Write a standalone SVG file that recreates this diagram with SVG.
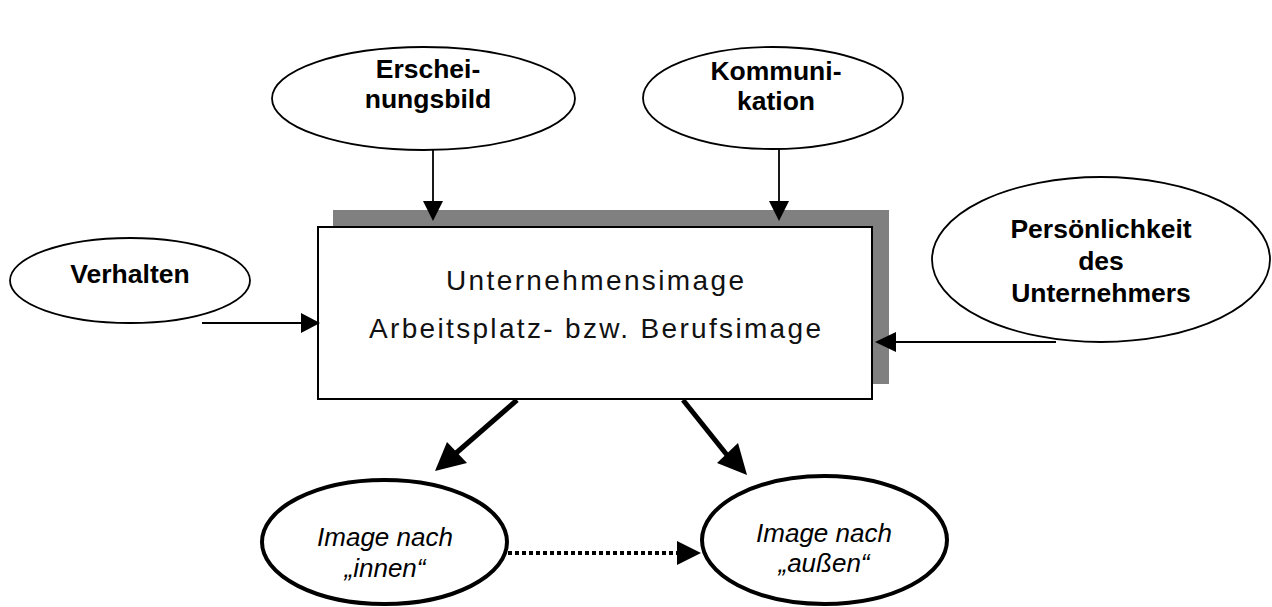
<svg xmlns="http://www.w3.org/2000/svg" width="1272" height="607" viewBox="0 0 1272 607">
<style>
.thin{fill:#fff;stroke:#000;stroke-width:1.8}
.thick{fill:#fff;stroke:#000;stroke-width:4}
.b{font-family:"Liberation Sans",Arial,sans-serif;font-weight:bold;font-size:26.5px;text-anchor:middle;fill:#000}
.m{font-family:"Liberation Sans",Arial,sans-serif;font-size:28px;text-anchor:middle;fill:#111}
.i{font-family:"Liberation Sans",Arial,sans-serif;font-style:italic;font-size:26px;text-anchor:middle;fill:#000}
.ln{stroke:#000;stroke-width:1.8;fill:none}
</style>
<rect width="1272" height="607" fill="#fff"/>
<g id="main-box">
<rect x="333" y="210" width="556" height="174" fill="#808080"/>
<rect x="318" y="227" width="554" height="172" fill="#fff" stroke="#000" stroke-width="2"/>
<text class="m" x="595" y="290" textLength="298" lengthAdjust="spacing">Unternehmensimage</text>
<text class="m" x="595" y="338" textLength="452" lengthAdjust="spacing">Arbeitsplatz- bzw. Berufsimage</text>
</g>
<g id="erscheinungsbild">
<ellipse class="thin" cx="423.5" cy="98.5" rx="151.5" ry="51.5"/>
<text class="b" x="428" y="78">Erschei-</text>
<text class="b" x="428" y="108">nungsbild</text>
</g>
<g id="kommunikation">
<ellipse class="thin" cx="773" cy="98" rx="130" ry="51"/>
<text class="b" x="776" y="80">Kommuni-</text>
<text class="b" x="776" y="110">kation</text>
</g>
<g id="verhalten">
<ellipse class="thin" cx="130" cy="280.5" rx="120" ry="42.5"/>
<text class="b" x="130" y="283">Verhalten</text>
</g>
<g id="persoenlichkeit">
<ellipse class="thin" cx="1101" cy="259.5" rx="169" ry="82.5"/>
<text class="b" x="1101" y="238">Persönlichkeit</text>
<text class="b" x="1101" y="270">des</text>
<text class="b" x="1101" y="302">Unternehmers</text>
</g>
<g id="image-innen">
<ellipse class="thick" cx="384.5" cy="542" rx="122.5" ry="62"/>
<text class="i" x="385" y="546">Image nach</text>
<text class="i" x="385" y="577">„innen“</text>
</g>
<g id="image-aussen">
<ellipse class="thick" cx="824.5" cy="540" rx="122.5" ry="64"/>
<text class="i" x="824" y="542">Image nach</text>
<text class="i" x="824" y="572">„außen“</text>
</g>
<g id="connectors">
<line class="ln" x1="433" y1="150" x2="433" y2="202"/>
<polygon points="423,201 443,201 433,221"/>
<line class="ln" x1="779" y1="149" x2="779" y2="202"/>
<polygon points="769,201 789,201 779,221"/>
<line class="ln" x1="202" y1="323" x2="303" y2="323"/>
<polygon points="301,313 301,333 320,323"/>
<line class="ln" x1="1056" y1="342" x2="894" y2="342"/>
<polygon points="896,332 896,352 875,342"/>
<line x1="517" y1="400" x2="455" y2="454" stroke="#000" stroke-width="5"/>
<polygon points="447,442 467,463 435,471"/>
<line x1="683" y1="400" x2="727" y2="455" stroke="#000" stroke-width="5"/>
<polygon points="717,463 738,443 747,475"/>
<line x1="508" y1="553" x2="678" y2="553" stroke="#000" stroke-width="4" stroke-dasharray="4 3"/>
<polygon points="677,541 677,565 701,553"/>
</g>
</svg>
